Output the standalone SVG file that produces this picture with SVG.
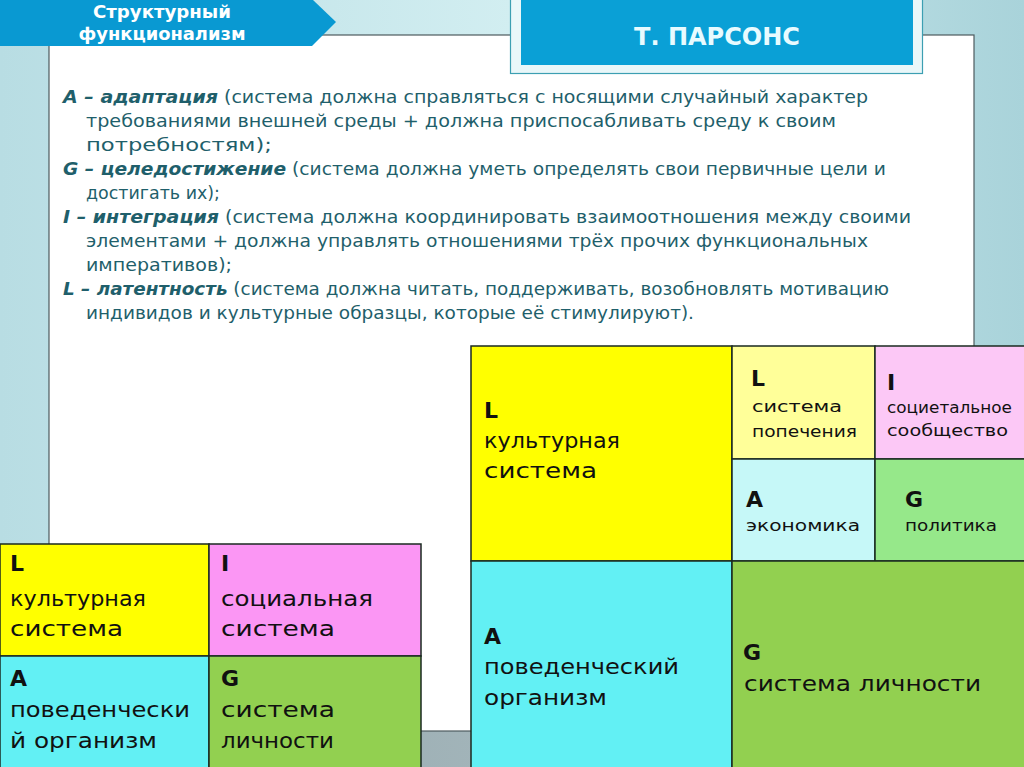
<svg xmlns="http://www.w3.org/2000/svg" width="1024" height="767" viewBox="0 0 1024 767">
<defs>
<linearGradient id="bg" x1="0" y1="0" x2="1" y2="0">
<stop offset="0" stop-color="#b8dde3"/>
<stop offset="0.5" stop-color="#d2eef1"/>
<stop offset="1" stop-color="#a9d3da"/>
</linearGradient>
<linearGradient id="foot" x1="0" y1="0" x2="1" y2="0">
<stop offset="0" stop-color="#8fa3a9"/>
<stop offset="0.5" stop-color="#a3b5ba"/>
<stop offset="1" stop-color="#8a9ea4"/>
</linearGradient>
<style>
.body{font-family:"DejaVu Sans","Noto Sans",sans-serif;font-size:18px;fill:#1f5f6b}
.b{font-weight:bold;font-style:italic}
.cell{stroke:#1a2a20;stroke-width:1.5}
.lbl{font-family:"DejaVu Sans","Noto Sans",sans-serif;fill:#111}
.big{font-size:22px}
.small{font-size:16.5px}
.let{font-weight:bold}
</style>
</defs>
<rect x="0" y="0" width="1024" height="767" fill="url(#bg)"/>
<rect x="0" y="731" width="1024" height="36" fill="url(#foot)"/>
<rect x="49" y="35" width="925" height="696" fill="#ffffff" stroke="#4d5a5e" stroke-width="1.2"/>

<g id="header-banner">
<polygon points="0,0 313,0 336,22 312,46 0,46" fill="#0999d2"/>
<text x="162" y="18" text-anchor="middle" font-family="DejaVu Sans, sans-serif" font-weight="bold" font-size="17" fill="#ffffff" textLength="138" lengthAdjust="spacingAndGlyphs">Структурный</text>
<text x="162" y="40" text-anchor="middle" font-family="DejaVu Sans, sans-serif" font-weight="bold" font-size="17" fill="#ffffff" textLength="167" lengthAdjust="spacingAndGlyphs">функционализм</text>
</g>

<g id="title">
<rect x="510.5" y="-1" width="412" height="74.5" fill="#e9f7f9" stroke="#3c9fb2" stroke-width="1.2"/>
<rect x="521" y="0" width="392" height="65" fill="#0aa0d6"/>
<text x="717" y="45" text-anchor="middle" font-family="DejaVu Sans, sans-serif" font-weight="bold" font-size="24" fill="#e8fbff">Т. ПАРСОНС</text>
</g>

<g id="body-text" class="body">
<text x="63" y="103" textLength="805" lengthAdjust="spacingAndGlyphs"><tspan class="b">A – адаптация</tspan> (система должна справляться с носящими случайный характер</text>
<text x="86" y="127" textLength="750" lengthAdjust="spacingAndGlyphs">требованиями внешней среды + должна приспосабливать среду к своим</text>
<text x="86" y="151" textLength="186" lengthAdjust="spacingAndGlyphs">потребностям);</text>
<text x="63" y="175" textLength="823" lengthAdjust="spacingAndGlyphs"><tspan class="b">G – целедостижение</tspan> (система должна уметь определять свои первичные цели и</text>
<text x="86" y="199" textLength="134" lengthAdjust="spacingAndGlyphs">достигать их);</text>
<text x="63" y="223" textLength="848" lengthAdjust="spacingAndGlyphs"><tspan class="b">I – интеграция</tspan> (система должна координировать взаимоотношения между своими</text>
<text x="86" y="247" textLength="782" lengthAdjust="spacingAndGlyphs">элементами + должна управлять отношениями трёх прочих функциональных</text>
<text x="86" y="271" textLength="146" lengthAdjust="spacingAndGlyphs">императивов);</text>
<text x="63" y="295" textLength="826" lengthAdjust="spacingAndGlyphs"><tspan class="b">L – латентность</tspan> (система должна читать, поддерживать, возобновлять мотивацию</text>
<text x="86" y="319" textLength="608" lengthAdjust="spacingAndGlyphs">индивидов и культурные образцы, которые её стимулируют).</text>
</g>

<g id="left-L">
<rect class="cell" x="0" y="544" width="209" height="112" fill="#ffff00"/>
<text class="lbl let big" x="10" y="571">L</text>
<text class="lbl big" x="10" y="606" textLength="136" lengthAdjust="spacingAndGlyphs">культурная</text>
<text class="lbl big" x="10" y="636" textLength="113" lengthAdjust="spacingAndGlyphs">система</text>
</g>
<g id="left-I">
<rect class="cell" x="209" y="544" width="212" height="112" fill="#fb96f4"/>
<text class="lbl let big" x="221" y="571">I</text>
<text class="lbl big" x="221" y="606" textLength="152" lengthAdjust="spacingAndGlyphs">социальная</text>
<text class="lbl big" x="221" y="636" textLength="114" lengthAdjust="spacingAndGlyphs">система</text>
</g>
<g id="left-A">
<rect class="cell" x="0" y="656" width="209" height="112" fill="#62f0f4"/>
<text class="lbl let big" x="10" y="686">A</text>
<text class="lbl big" x="10" y="717" textLength="180" lengthAdjust="spacingAndGlyphs">поведенчески</text>
<text class="lbl big" x="10" y="748" textLength="147" lengthAdjust="spacingAndGlyphs">й организм</text>
</g>
<g id="left-G">
<rect class="cell" x="209" y="656" width="212" height="112" fill="#92d050"/>
<text class="lbl let big" x="221" y="686">G</text>
<text class="lbl big" x="221" y="717" textLength="114" lengthAdjust="spacingAndGlyphs">система</text>
<text class="lbl big" x="221" y="748" textLength="113" lengthAdjust="spacingAndGlyphs">личности</text>
</g>

<g id="right-L-cultural">
<rect class="cell" x="471" y="346" width="261" height="215" fill="#ffff00"/>
<text class="lbl let big" x="484" y="418">L</text>
<text class="lbl big" x="484" y="448" textLength="136" lengthAdjust="spacingAndGlyphs">культурная</text>
<text class="lbl big" x="484" y="478" textLength="113" lengthAdjust="spacingAndGlyphs">система</text>
</g>
<g id="right-L-care">
<rect class="cell" x="732" y="346" width="143" height="113" fill="#ffff99"/>
<text class="lbl let big" x="751" y="386">L</text>
<text class="lbl small" x="752" y="412" textLength="90" lengthAdjust="spacingAndGlyphs">система</text>
<text class="lbl small" x="752" y="437" textLength="105" lengthAdjust="spacingAndGlyphs">попечения</text>
</g>
<g id="right-I-community">
<rect class="cell" x="875" y="346" width="150" height="113" fill="#fcc8f6"/>
<text class="lbl let big" x="887" y="390">I</text>
<text class="lbl small" x="887" y="413" textLength="125" lengthAdjust="spacingAndGlyphs">социетальное</text>
<text class="lbl small" x="887" y="436" textLength="121" lengthAdjust="spacingAndGlyphs">сообщество</text>
</g>
<g id="right-A-economy">
<rect class="cell" x="732" y="459" width="143" height="102" fill="#c6f8f8"/>
<text class="lbl let big" x="746" y="507">A</text>
<text class="lbl small" x="746" y="531" textLength="114" lengthAdjust="spacingAndGlyphs">экономика</text>
</g>
<g id="right-G-politics">
<rect class="cell" x="875" y="459" width="150" height="102" fill="#96e88a"/>
<text class="lbl let big" x="905" y="507">G</text>
<text class="lbl small" x="905" y="531" textLength="92" lengthAdjust="spacingAndGlyphs">политика</text>
</g>
<g id="right-A-organism">
<rect class="cell" x="471" y="561" width="261" height="207" fill="#62f0f4"/>
<text class="lbl let big" x="484" y="644">A</text>
<text class="lbl big" x="484" y="674" font-size="23" textLength="195" lengthAdjust="spacingAndGlyphs">поведенческий</text>
<text class="lbl big" x="484" y="705" font-size="23" textLength="123" lengthAdjust="spacingAndGlyphs">организм</text>
</g>
<g id="right-G-personality">
<rect class="cell" x="732" y="561" width="293" height="207" fill="#92d050"/>
<text class="lbl let big" x="743" y="660">G</text>
<text class="lbl big" x="744" y="691" textLength="237" lengthAdjust="spacingAndGlyphs">система личности</text>
</g>
<g id="connectors"/>
</svg>
